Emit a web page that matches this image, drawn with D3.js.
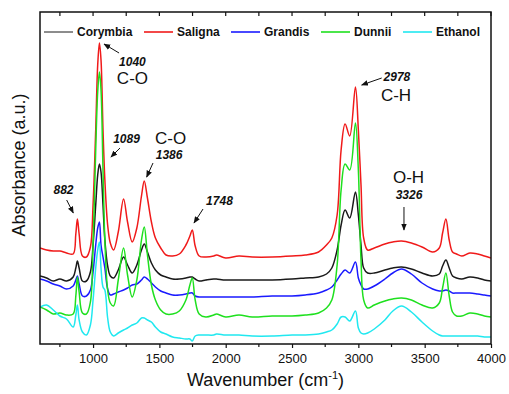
<!DOCTYPE html>
<html>
<head>
<meta charset="utf-8">
<script src="https://cdn.jsdelivr.net/npm/d3@7"></script>
<style>
  body { margin: 0; background: #fff; }
  svg { display: block; font-family: Arial, "Liberation Sans", sans-serif; }
</style>
</head>
<body>
<svg id="chart" width="509" height="394"></svg>
<script>
// wavenumber grid (cm-1) shared by all spectra
const wavenumbers = [600, 650, 700, 750, 800, 850, 870, 882, 895, 920, 950, 980, 1000, 1020, 1035, 1048, 1060, 1075, 1089, 1110,
  1130, 1155, 1190, 1230, 1260, 1295, 1330, 1365, 1386, 1410, 1440, 1470, 1510, 1550, 1600, 1650, 1700, 1730, 1748, 1770,
  1800, 1850, 1910, 1930, 2000, 2100, 2200, 2350, 2500, 2600, 2700, 2760, 2800, 2840, 2870, 2900, 2935, 2978, 3000, 3020,
  3040, 3070, 3120, 3200, 3260, 3326, 3400, 3480, 3560, 3610, 3635, 3660, 3685, 3710, 3740, 3780, 3840, 3900, 3950, 4000];

const corymbia = [.68, .66, .63, .65, .63, .67, .76, .83, .76, .63, .63, .72, .99, 1.39, 1.69, 1.80, 1.72, 1.39, 1.04, .78,
  .68, .66, .74, .87, .79, .71, .79, .94, 1.00, .92, .81, .74, .69, .67, .65, .65, .66, .67, .67, .65,
  .63, .64, .65, .65, .64, .64, .64, .64, .65, .66, .67, .70, .76, .94, 1.19, 1.34, 1.26, 1.52, 1.29, .99,
  .76, .71, .71, .74, .76, .77, .75, .71, .68, .70, .78, .84, .76, .68, .66, .65, .67, .66, .64, .63];

const saligna = [.96, .94, .93, .93, .91, .90, 1.10, 1.25, 1.10, .88, .87, .97, 1.39, 2.14, 2.79, 3.01, 2.84, 2.14, 1.64, 1.19,
  1.01, .94, 1.12, 1.45, 1.22, 1.02, 1.16, 1.48, 1.63, 1.46, 1.22, 1.06, .96, .89, .88, .90, .99, 1.08, 1.14, .98,
  .88, .87, .88, .89, .86, .88, .87, .87, .88, .89, .92, .99, 1.06, 1.29, 1.94, 2.20, 2.08, 2.57, 2.14, 1.59,
  1.06, .94, .96, 1.00, 1.02, 1.03, 1.01, .97, .92, .96, 1.11, 1.25, 1.04, .92, .90, .88, .91, .90, .88, .86];

const grandis = [.65, .63, .60, .58, .55, .58, .64, .68, .60, .48, .48, .54, .72, .99, 1.16, 1.22, .99, .87, .76, .55,
  .49, .50, .52, .54, .56, .59, .60, .64, .67, .65, .61, .57, .53, .51, .49, .49, .50, .51, .51, .48,
  .47, .47, .47, .47, .47, .47, .47, .48, .48, .49, .51, .54, .57, .64, .70, .74, .71, .82, .66, .59,
  .55, .55, .58, .65, .71, .75, .70, .61, .55, .53, .53, .54, .53, .51, .51, .51, .51, .50, .49, .48];

const dunnii = [.37, .34, .30, .31, .29, .30, .48, .67, .52, .31, .30, .42, .99, 1.94, 2.52, 2.72, 2.54, 1.74, 1.04, .54,
  .41, .38, .64, .96, .69, .47, .64, 1.04, 1.17, .89, .59, .44, .34, .30, .30, .33, .44, .59, .66, .44,
  .30, .27, .29, .30, .27, .29, .27, .28, .28, .29, .31, .36, .44, .79, 1.54, 1.80, 1.74, 2.21, 1.74, .84,
  .44, .36, .39, .43, .45, .46, .44, .39, .36, .41, .56, .71, .48, .32, .28, .28, .31, .30, .28, .27];

const ethanol = [.37, .39, .34, .28, .25, .17, .29, .39, .24, .12, .09, .19, .44, .76, .94, 1.02, .76, .57, .54, .26,
  .12, .08, .11, .14, .16, .19, .21, .26, .26, .24, .22, .17, .12, .10, .07, .06, .05, .05, .03, .08,
  .09, .09, .09, .10, .09, .09, .08, .08, .09, .09, .10, .12, .14, .20, .27, .27, .23, .33, .16, .11,
  .10, .11, .15, .24, .33, .38, .32, .22, .13, .09, .08, .08, .08, .08, .08, .08, .08, .08, .07, .07];

const seriesNames = ["Corymbia", "Saligna", "Grandis", "Dunnii", "Ethanol"];
const seriesValues = [corymbia, saligna, grandis, dunnii, ethanol];
const seriesColors = ["#1a1a1a", "#f01a1a", "#1a1aff", "#1ee01e", "#20e8f0"];

const xMajorTicks = [1000, 1500, 2000, 2500, 3000, 3500, 4000];
const xMinorTicks = [750, 1250, 1750, 2250, 2750, 3250, 3750];

// peak labels: [text, wavenumber, absorbance, kind]
const peakLabels = [
  ["1040", 1297, 2.78, "num"], ["C-O", 1297, 2.60, "group"],
  ["1089", 1252, 2.01, "num"], ["C-O", 1584, 2.00, "group"], ["1386", 1573, 1.855, "num"],
  ["882", 777, 1.50, "num"], ["1748", 1953, 1.39, "num"],
  ["2978", 3291, 2.635, "num"], ["C-H", 3284, 2.43, "group"],
  ["O-H", 3378, 1.615, "group"], ["3326", 3382, 1.455, "num"]
];
// arrows: [wn from, abs from, wn to, abs to]
const peakArrows = [
  [1196, 2.91, 1083, 3.00], [1203, 1.96, 1135, 1.87], [1452, 1.81, 1404, 1.67],
  [801, 1.44, 851, 1.31], [1829, 1.35, 1761, 1.21], [3176, 2.66, 3025, 2.59],
  [3344, 1.37, 3344, 1.14]
];

const svg = d3.select("#chart");
const margin = { top: 12, right: 18, bottom: 50, left: 40 };
const width = 509 - margin.left - margin.right;
const height = 394 - margin.top - margin.bottom;

const x = d3.scaleLinear().domain([600, 4000]).range([0, width]);
const y = d3.scaleLinear().domain([0, 3.32]).range([height, 0]);

const defs = svg.append("defs");
defs.append("clipPath").attr("id", "clip")
  .append("rect").attr("width", width).attr("height", height);
defs.append("marker")
  .attr("id", "arrow")
  .attr("viewBox", "0 0 10 10")
  .attr("refX", 9).attr("refY", 5)
  .attr("markerWidth", 7).attr("markerHeight", 7)
  .attr("orient", "auto")
  .append("path").attr("d", "M0,1 L10,5 L0,9 Z").attr("fill", "#111");

const g = svg.append("g").attr("transform", `translate(${margin.left},${margin.top})`);

// bottom axis (outward ticks)
const xAxis = g.append("g")
  .attr("transform", `translate(0,${height})`)
  .call(d3.axisBottom(x).tickValues(xMajorTicks).tickFormat(d3.format("d"))
    .tickSize(4).tickSizeOuter(0).tickPadding(6));
xAxis.select(".domain").remove();
xAxis.selectAll("line").attr("stroke", "#111").attr("stroke-width", 1.2);
xAxis.selectAll("text").attr("font-size", 13).attr("fill", "#111")
  .attr("font-family", "Arial, 'Liberation Sans', sans-serif");

g.append("g").selectAll("line").data(xMinorTicks).join("line")
  .attr("x1", d => x(d)).attr("x2", d => x(d))
  .attr("y1", height).attr("y2", height + 3)
  .attr("stroke", "#111").attr("stroke-width", 1.2);

// top mirror ticks (inward)
g.append("g").selectAll("line").data(xMajorTicks.concat(xMinorTicks)).join("line")
  .attr("x1", d => x(d)).attr("x2", d => x(d))
  .attr("y1", 0).attr("y2", 4)
  .attr("stroke", "#111").attr("stroke-width", 1.2);

// spectra
const line = d3.line()
  .x((d, i) => x(wavenumbers[i]))
  .y(d => y(d))
  .curve(d3.curveCatmullRom.alpha(0.5));

const plot = g.append("g").attr("clip-path", "url(#clip)");
seriesValues.forEach((vals, k) => {
  plot.append("path")
    .datum(vals)
    .attr("fill", "none")
    .attr("stroke", seriesColors[k])
    .attr("stroke-width", 1.5)
    .attr("stroke-linejoin", "round")
    .attr("d", line);
});

// frame
g.append("rect")
  .attr("width", width).attr("height", height)
  .attr("fill", "none").attr("stroke", "#111").attr("stroke-width", 1.5);

// legend
const legendX = [4, 104, 191, 281, 363];
const legend = g.append("g").attr("transform", "translate(0,20)");
seriesNames.forEach((name, k) => {
  legend.append("line")
    .attr("x1", legendX[k]).attr("x2", legendX[k] + 29)
    .attr("stroke", seriesColors[k]).attr("stroke-width", k === 0 ? 1 : 1.6);
  legend.append("text")
    .attr("x", legendX[k] + 33).attr("y", 4.3)
    .attr("font-size", 12).attr("font-weight", "bold").attr("fill", "#111")
    .text(name);
});

// peak annotations
g.append("g").selectAll("line").data(peakArrows).join("line")
  .attr("x1", d => x(d[0])).attr("y1", d => y(d[1]))
  .attr("x2", d => x(d[2])).attr("y2", d => y(d[3]))
  .attr("stroke", "#111").attr("stroke-width", 1)
  .attr("marker-end", "url(#arrow)");

g.append("g").selectAll("text").data(peakLabels).join("text")
  .attr("x", d => x(d[1])).attr("y", d => y(d[2]))
  .attr("text-anchor", "middle")
  .attr("fill", "#111")
  .attr("font-size", d => d[3] === "num" ? 12 : 17)
  .attr("font-weight", d => d[3] === "num" ? "bold" : "normal")
  .attr("font-style", d => d[3] === "num" ? "italic" : "normal")
  .text(d => d[0]);

// axis titles
const xTitle = svg.append("text")
  .attr("x", margin.left + width / 2).attr("y", 386)
  .attr("text-anchor", "middle")
  .attr("font-size", 18).attr("fill", "#111");
xTitle.append("tspan").text("Wavenumber (cm");
xTitle.append("tspan").attr("dy", -7).attr("font-size", 11).text("-1");
xTitle.append("tspan").attr("dy", 7).text(")");

svg.append("text")
  .attr("transform", "translate(25,165) rotate(-90)")
  .attr("text-anchor", "middle")
  .attr("font-size", 18).attr("fill", "#111")
  .text("Absorbance (a.u.)");
</script>
</body>
</html>
